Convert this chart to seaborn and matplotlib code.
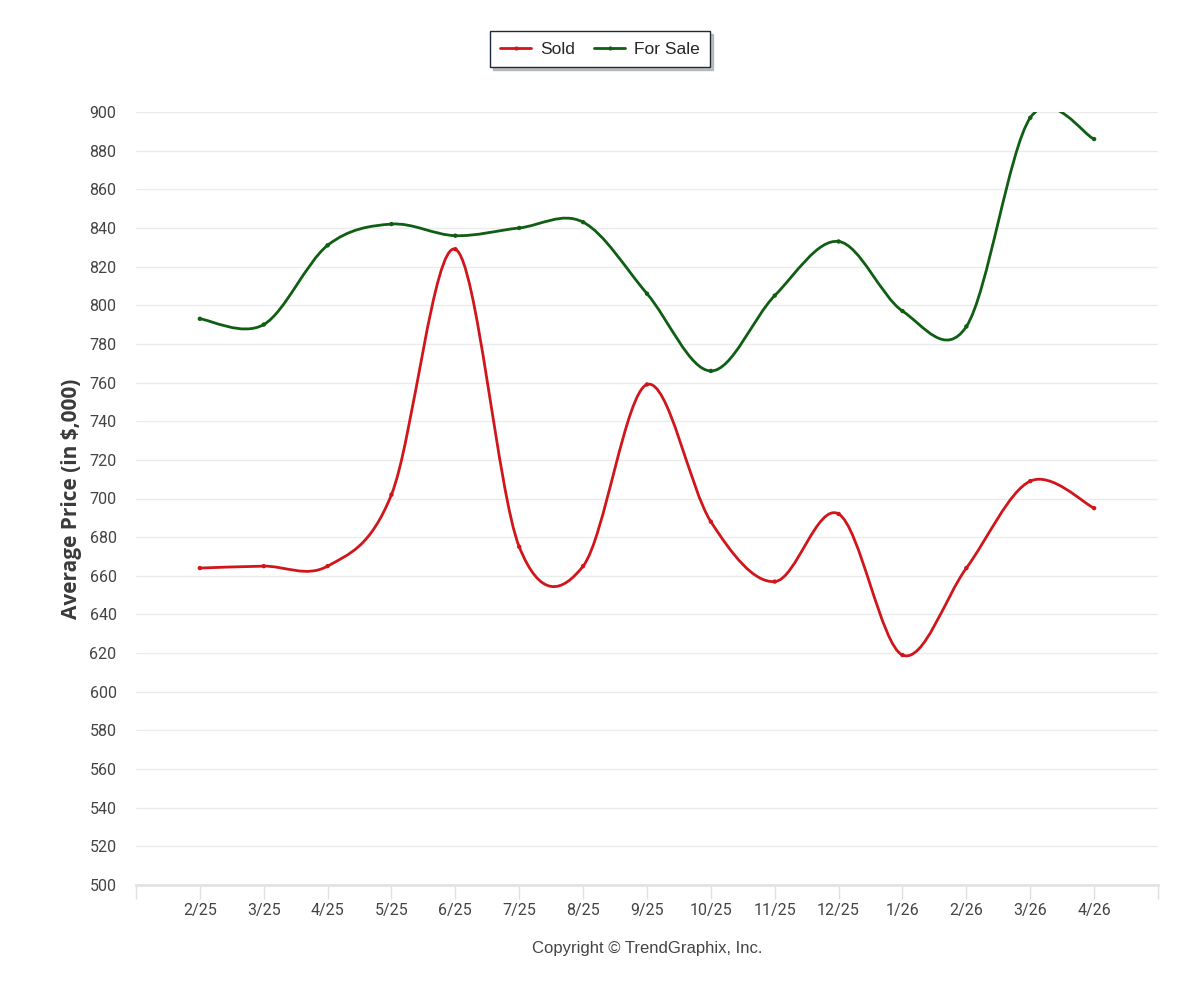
import matplotlib
matplotlib.use('Agg')
import matplotlib.pyplot as plt
import pandas as pd
import seaborn as sns
from matplotlib.path import Path
from matplotlib.patches import PathPatch
from matplotlib.lines import Line2D

# Data (average price, in $,000)
months = ['2/25', '3/25', '4/25', '5/25', '6/25', '7/25', '8/25', '9/25',
          '10/25', '11/25', '12/25', '1/26', '2/26', '3/26', '4/26']
sold = [664, 665, 665, 702, 829, 675, 665, 759, 688, 657, 692, 619, 664, 709, 695]
for_sale = [793, 790, 831, 842, 836, 840, 843, 806, 766, 805, 833, 797, 789, 897, 886]
y_ticks = list(range(500, 901, 20))

SOLD_COLOR = '#d0161b'
SALE_COLOR = '#0f5e14'


def spline_path(xs, ys):
    # Catmull-Rom curve through the points, written as cubic Bezier segments
    n = len(xs)
    pts = list(zip(xs, ys))
    ext = [pts[0]] + pts + [pts[-1]]
    verts = [pts[0]]
    codes = [Path.MOVETO]
    for i in range(n - 1):
        p0, p1, p2, p3 = ext[i], ext[i + 1], ext[i + 2], ext[i + 3]
        c1 = (p1[0] + (p2[0] - p0[0]) / 6, p1[1] + (p2[1] - p0[1]) / 6)
        c2 = (p2[0] - (p3[0] - p1[0]) / 6, p2[1] - (p3[1] - p1[1]) / 6)
        verts += [c1, c2, p2]
        codes += [Path.CURVE4] * 3
    return Path(verts, codes)


df = pd.DataFrame({'month': months * 2,
                   'pos': list(range(len(months))) * 2,
                   'price': sold + for_sale,
                   'series': ['Sold'] * len(months) + ['For Sale'] * len(months)})

sns.set_theme(style='white')
plt.rcParams['font.family'] = ['Roboto', 'DejaVu Sans']

fig = plt.figure(figsize=(12, 10), dpi=100)
ax = fig.add_axes([0.1133, 0.115, 0.8517, 0.773])

sns.scatterplot(data=df, x='pos', y='price', hue='series',
                palette={'Sold': SOLD_COLOR, 'For Sale': SALE_COLOR},
                s=10, edgecolor='none', legend=False, ax=ax, zorder=4)

for vals, col in [(sold, SOLD_COLOR), (for_sale, SALE_COLOR)]:
    p = spline_path(list(range(len(vals))), vals)
    ax.add_patch(PathPatch(p, facecolor='none', edgecolor=col, lw=2.0,
                           zorder=3, transform=ax.transData))

ax.set_xlim(-1, len(months))
ax.set_ylim(500, 900)
ax.set_yticks(y_ticks)
ax.set_yticklabels([str(v) for v in y_ticks], fontsize=11.5, color='#444444')
ax.set_xticks(range(len(months)))
ax.set_xticklabels(months, fontsize=11.5, color='#444444')
ax.set_xticks([-1, len(months)], minor=True)
ax.tick_params(axis='x', which='both', length=10, width=1, color='#e0e0e0',
               direction='out', pad=3, bottom=True)
ax.tick_params(axis='y', length=0, pad=14)
ax.yaxis.grid(True, color='#ebebeb', lw=1)
ax.xaxis.grid(False)
for side in ['top', 'right', 'left']:
    ax.spines[side].set_visible(False)
ax.spines['bottom'].set_color('#e3e3e3')
ax.spines['bottom'].set_linewidth(2)
ax.set_xlabel('')
ax.set_ylabel('Average Price (in $,000)', fontsize=15, fontweight='bold',
              color='#3a3a3a', family=['Open Sans', 'DejaVu Sans'])
ax.yaxis.set_label_coords(-0.053, 0.5)

handles = [Line2D([], [], color=SOLD_COLOR, lw=2, marker='o', markersize=2),
           Line2D([], [], color=SALE_COLOR, lw=2, marker='o', markersize=2)]
leg = fig.legend(handles, ['Sold', 'For Sale'], loc='center', bbox_to_anchor=(0.5, 0.951),
                 ncol=2, frameon=True, fancybox=False, shadow={'color': '#888888'},
                 handlelength=1.8, handletextpad=0.5, columnspacing=1.1, borderpad=0.6,
                 prop={'family': ['Liberation Sans', 'DejaVu Sans'], 'size': 12.5})
leg.get_frame().set_edgecolor('#1c2b3c')
leg.get_frame().set_linewidth(1)

fig.text(0.5395, 0.051, 'Copyright \u00a9 TrendGraphix, Inc.', ha='center', va='center',
         fontsize=12, color='#444444', family=['Liberation Sans', 'DejaVu Sans'])

fig.savefig('out.png', dpi=100, facecolor='white')
